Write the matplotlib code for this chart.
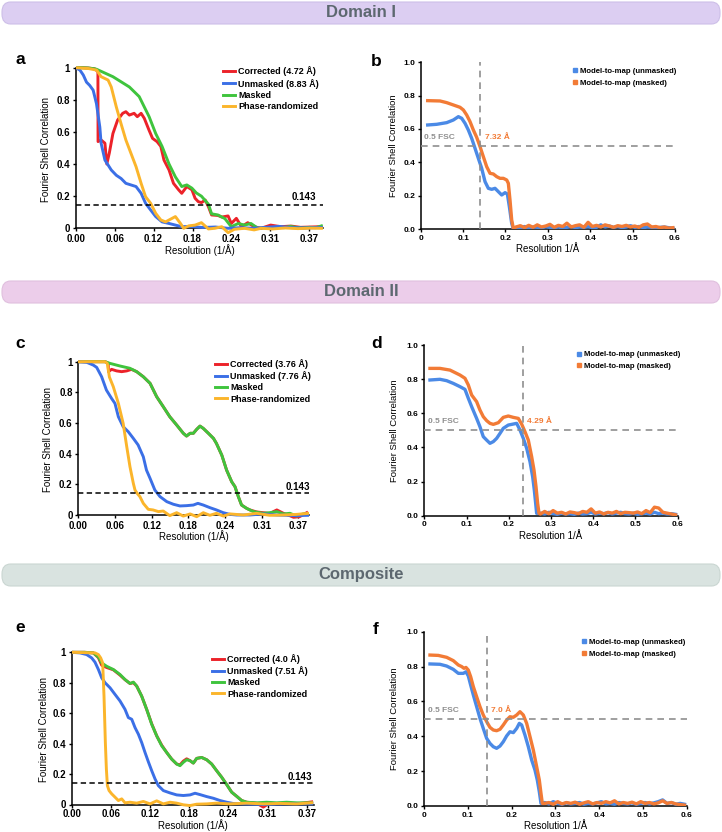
import matplotlib.pyplot as plt
from matplotlib.lines import Line2D
from matplotlib.patches import FancyBboxPatch

plt.rcParams['font.family'] = ['Liberation Sans', 'DejaVu Sans']
plt.rcParams['font.weight'] = 'bold'

W, H = 722, 832

RED = '#ec2229'
BLUE = '#3b6fe6'
GREEN = '#3fc43d'
YELLOW = '#fbb52b'
MBLUE = '#4b8ae6'
ORANGE = '#f27b36'
DASH_GREY = '#8f8f8f'

# ---------------- Domain I (a) : FSC curves ----------------
a_corr_x = [0, 0.01, 0.02, 0.03, 0.035, 0.0352, 0.04, 0.046, 0.049, 0.053, 0.0586, 0.066, 0.074, 0.079,
            0.0845, 0.092, 0.097, 0.103, 0.108, 0.1156, 0.121, 0.128, 0.134, 0.139, 0.147, 0.154, 0.162,
            0.167, 0.175, 0.183, 0.188, 0.193, 0.198, 0.204, 0.209, 0.214, 0.224, 0.23, 0.24, 0.245, 0.253,
            0.261, 0.271, 0.281, 0.292, 0.307, 0.323, 0.339, 0.354, 0.37, 0.385]
a_corr_y = [1, 1, 0.998, 0.993, 0.975, 0.54, 0.55, 0.53, 0.40, 0.47, 0.59, 0.674, 0.716, 0.726,
            0.705, 0.716, 0.695, 0.716, 0.685, 0.61, 0.56, 0.54, 0.51, 0.425, 0.363, 0.28, 0.24,
            0.218, 0.26, 0.24, 0.187, 0.166, 0.16, 0.176, 0.135, 0.083, 0.08, 0.07, 0.077, 0.03, 0.062,
            0.01, 0.035, 0.01, 0.0, 0.02, 0.01, 0.014, 0.006, 0.008, 0.01]
a_unm_x = [0, 0.0067, 0.012, 0.017, 0.022, 0.0275, 0.0327, 0.038, 0.04, 0.046, 0.051, 0.056, 0.064, 0.0715,
           0.079, 0.087, 0.095, 0.103, 0.11, 0.118, 0.126, 0.136, 0.147, 0.157, 0.167, 0.18, 0.2, 0.22,
           0.24, 0.26, 0.28, 0.30, 0.32, 0.34, 0.36, 0.387]
a_unm_y = [1, 0.985, 0.954, 0.91, 0.89, 0.86, 0.776, 0.63, 0.53, 0.425, 0.394, 0.363, 0.33, 0.31,
           0.28, 0.27, 0.26, 0.218, 0.156, 0.114, 0.073, 0.04, 0.03, 0.02, 0.01, 0.012, 0.005, 0.008,
           0.0, 0.004, 0.0, 0.006, 0.012, 0.004, 0.002, 0.005]
a_mask_x = [0, 0.01, 0.02, 0.03, 0.033, 0.0586, 0.0845, 0.10, 0.1156, 0.126, 0.136, 0.147, 0.157, 0.167,
            0.175, 0.183, 0.19, 0.198, 0.209, 0.214, 0.224, 0.235, 0.245, 0.256, 0.266, 0.276, 0.287,
            0.297, 0.307, 0.318, 0.328, 0.338, 0.348, 0.358, 0.368, 0.378, 0.387]
a_mask_y = [1, 1, 0.998, 0.993, 0.99, 0.944, 0.88, 0.82, 0.695, 0.59, 0.51, 0.40, 0.32, 0.26,
            0.27, 0.25, 0.22, 0.20, 0.15, 0.09, 0.083, 0.06, 0.01, 0.03, 0.02, 0.03, 0.0,
            0.003, 0.0, 0.008, 0.004, 0.012, 0.005, 0.002, 0.006, 0.004, 0.015]
a_phase_x = [0, 0.02, 0.033, 0.04, 0.051, 0.056, 0.064, 0.0715, 0.079, 0.087, 0.095, 0.103, 0.11, 0.118,
             0.126, 0.134, 0.1415, 0.149, 0.157, 0.165, 0.17, 0.178, 0.188, 0.198, 0.209, 0.219, 0.23,
             0.24, 0.25, 0.266, 0.281, 0.292, 0.31, 0.33, 0.35, 0.37, 0.387]
a_phase_y = [1, 0.995, 0.985, 0.944, 0.923, 0.88, 0.755, 0.65, 0.55, 0.467, 0.384, 0.28, 0.197, 0.156,
             0.093, 0.052, 0.04, 0.056, 0.073, 0.03, 0.0, 0.015, 0.02, 0.035, -0.004, 0.0, 0.01,
             -0.027, -0.006, 0.0, -0.01, 0.0, -0.004, 0.002, -0.002, 0.001, 0.0]
a_labels = ['Corrected (4.72 Å)', 'Unmasked (8.83 Å)', 'Masked', 'Phase-randomized']

# ---------------- Domain II (c) ----------------
c_corr_x = [0, 0.02, 0.045, 0.05, 0.0505, 0.0557, 0.064, 0.0725, 0.081, 0.089, 0.0976, 0.1087, 0.12, 0.131,
            0.142, 0.153, 0.1645, 0.1756, 0.181, 0.187, 0.1924, 0.198, 0.2035, 0.209, 0.2175, 0.226,
            0.231, 0.24, 0.248, 0.2565, 0.262, 0.2676, 0.273, 0.2816, 0.287, 0.298, 0.309, 0.32, 0.332,
            0.343, 0.354, 0.36, 0.37, 0.382]
c_corr_y = [1, 1, 1, 0.99, 0.935, 0.95, 0.94, 0.935, 0.94, 0.95, 0.935, 0.902, 0.859, 0.772,
            0.707, 0.641, 0.587, 0.533, 0.515, 0.533, 0.533, 0.559, 0.58, 0.565, 0.533, 0.5,
            0.467, 0.39, 0.293, 0.217, 0.185, 0.12, 0.065, 0.043, 0.033, 0.02, 0.015, 0.01, 0.033,
            0.011, -0.005, -0.015, -0.011, 0.015]
c_unm_x = [0, 0.014, 0.025, 0.0307, 0.039, 0.047, 0.0557, 0.0613, 0.067, 0.075, 0.0836, 0.092, 0.1, 0.1087,
           0.114, 0.12, 0.128, 0.1366, 0.148, 0.159, 0.17, 0.181, 0.1924, 0.2, 0.209, 0.22, 0.231,
           0.2425, 0.2537, 0.265, 0.287, 0.309, 0.332, 0.365, 0.385]
c_unm_y = [1, 0.996, 0.978, 0.963, 0.902, 0.815, 0.76, 0.728, 0.641, 0.576, 0.543, 0.5, 0.457, 0.38,
           0.293, 0.239, 0.163, 0.12, 0.087, 0.07, 0.059, 0.061, 0.065, 0.076, 0.065, 0.048, 0.033,
           0.015, 0.004, 0.0, 0.0, 0.007, 0.0, -0.004, -0.002]
c_mask_x = [0, 0.02, 0.0446, 0.053, 0.0697, 0.0864, 0.0976, 0.1087, 0.12, 0.131, 0.142, 0.153, 0.1645,
            0.1756, 0.181, 0.187, 0.1924, 0.198, 0.2035, 0.209, 0.2175, 0.226, 0.231, 0.24, 0.248,
            0.2565, 0.262, 0.2676, 0.273, 0.2816, 0.293, 0.309, 0.32, 0.332, 0.343, 0.354, 0.365,
            0.376, 0.385]
c_mask_y = [1, 1, 1, 0.989, 0.972, 0.957, 0.935, 0.902, 0.859, 0.772, 0.707, 0.641, 0.587,
            0.533, 0.515, 0.533, 0.533, 0.559, 0.58, 0.565, 0.533, 0.5, 0.467, 0.39, 0.293,
            0.217, 0.185, 0.12, 0.065, 0.043, 0.022, 0.011, 0.015, 0.022, 0.007, 0.011, -0.007,
            0.007, 0.004]
c_phase_x = [0, 0.02, 0.0446, 0.0485, 0.052, 0.0585, 0.067, 0.075, 0.081, 0.0864, 0.092, 0.0948, 0.0987,
             0.103, 0.1087, 0.117, 0.125, 0.134, 0.142, 0.153, 0.1645, 0.1756, 0.187, 0.198, 0.209,
             0.22, 0.231, 0.2425, 0.2537, 0.276, 0.298, 0.32, 0.343, 0.365, 0.385]
c_phase_y = [1, 1, 1, 0.989, 0.9, 0.837, 0.728, 0.598, 0.446, 0.315, 0.207, 0.163, 0.14,
             0.12, 0.076, 0.037, 0.033, 0.022, 0.026, -0.004, 0.015, -0.007, 0.007, -0.011, 0.015,
             -0.002, 0.011, -0.007, 0.007, 0.0, 0.011, -0.002, 0.0, 0.004, 0.011]
c_labels = ['Corrected (3.76 Å)', 'Unmasked (7.76 Å)', 'Masked', 'Phase-randomized']

# ---------------- Composite (e) ----------------
e_mask_x = [0, 0.02, 0.0339, 0.0418, 0.047, 0.0548, 0.0652, 0.0757, 0.0835, 0.0913, 0.0966, 0.1018,
            0.1096, 0.1174, 0.1253, 0.1331, 0.1409, 0.1487, 0.1566, 0.1644, 0.1696, 0.1748, 0.18,
            0.1853, 0.1905, 0.1957, 0.2035, 0.2114, 0.2192, 0.227, 0.2349, 0.2427, 0.2505, 0.2583,
            0.2662, 0.274, 0.2897, 0.3053, 0.321, 0.3366, 0.3523, 0.3758]
e_mask_y = [1, 1, 0.996, 0.969, 0.93, 0.908, 0.887, 0.854, 0.821, 0.795, 0.804, 0.778,
            0.712, 0.625, 0.527, 0.451, 0.386, 0.342, 0.298, 0.266, 0.255, 0.277, 0.294,
            0.288, 0.272, 0.303, 0.309, 0.294, 0.266, 0.222, 0.179, 0.131, 0.081, 0.054,
            0.026, 0.015, 0.011, 0.015, 0.011, 0.015, 0.011, 0.011]
e_corr_x = [0, 0.02, 0.0339, 0.0418, 0.047, 0.0548, 0.0652, 0.0757, 0.0835, 0.0913, 0.0966, 0.1018,
            0.1096, 0.1174, 0.1253, 0.1331, 0.1409, 0.1487, 0.1566, 0.1644, 0.1696, 0.1748, 0.18,
            0.1853, 0.1905, 0.1957, 0.2035, 0.2114, 0.2192, 0.227, 0.2349, 0.2427, 0.2505, 0.2583,
            0.2662, 0.274, 0.2897, 0.3001, 0.31, 0.321, 0.3366, 0.3523, 0.3758]
e_corr_y = [1, 1, 0.996, 0.965, 0.915, 0.9, 0.885, 0.85, 0.82, 0.795, 0.8, 0.778,
            0.712, 0.625, 0.53, 0.451, 0.39, 0.342, 0.298, 0.266, 0.26, 0.285, 0.3,
            0.288, 0.272, 0.303, 0.309, 0.294, 0.266, 0.222, 0.179, 0.131, 0.081, 0.054,
            0.026, 0.015, 0.008, -0.017, 0.01, 0.004, 0.011, 0.004, 0.017]
e_unm_x = [0, 0.013, 0.0235, 0.0313, 0.0365, 0.0418, 0.047, 0.0522, 0.06, 0.0679, 0.0757, 0.0835, 0.0887,
           0.094, 0.0992, 0.1044, 0.1096, 0.1148, 0.12, 0.1253, 0.1305, 0.1357, 0.1435, 0.154, 0.1644,
           0.1748, 0.1853, 0.1931, 0.201, 0.2114, 0.2218, 0.2323, 0.2427, 0.2531, 0.2688, 0.3001,
           0.3314, 0.3758]
e_unm_y = [1, 0.996, 0.985, 0.963, 0.935, 0.887, 0.832, 0.8, 0.767, 0.723, 0.68, 0.625, 0.571,
           0.56, 0.505, 0.462, 0.407, 0.342, 0.281, 0.222, 0.168, 0.124, 0.0915, 0.076, 0.063,
           0.059, 0.063, 0.074, 0.065, 0.052, 0.041, 0.026, 0.015, 0.0065, 0.004, 0.0,
           0.004, 0.004]
e_phase_x = [0, 0.0365, 0.0418, 0.0454, 0.0485, 0.0506, 0.0527, 0.0543, 0.0559, 0.0585, 0.0626, 0.0679,
             0.0731, 0.0783, 0.0835, 0.0913, 0.1018, 0.1122, 0.1227, 0.1331, 0.1435, 0.154, 0.1644,
             0.1748, 0.1853, 0.1957, 0.2114, 0.227, 0.2479, 0.274, 0.3001, 0.3262, 0.3523, 0.3758]
e_phase_y = [1, 0.996, 0.985, 0.963, 0.93, 0.712, 0.407, 0.233, 0.124, 0.0915, 0.07, 0.048,
             0.026, 0.037, 0.011, 0.015, 0.009, 0.02, 0.004, 0.024, 0.004, 0.015, 0.009,
             -0.002, -0.007, 0.002, 0.004, 0.009, 0.004, 0.009, 0.004, 0.007, 0.004, 0.011]
e_labels = ['Corrected (4.0 Å)', 'Unmasked (7.51 Å)', 'Masked', 'Phase-randomized']

fsc_xticks = [0.0, 0.0613, 0.1227, 0.184, 0.2453, 0.3067, 0.368]
fsc_xticklabels = ['0.00', '0.06', '0.12', '0.18', '0.24', '0.31', '0.37']
fsc_yticks = [0, 0.2, 0.4, 0.6, 0.8, 1]
fsc_yticklabels = ['0', '0.2', '0.4', '0.6', '0.8', '1']

# ---------------- Model-to-map (b) ----------------
b_unm_x = [0.0165, 0.0377, 0.0613, 0.0771, 0.0889, 0.0967, 0.1046, 0.1124, 0.1203, 0.1282, 0.136, 0.1439,
           0.1518, 0.1596, 0.1675, 0.1754, 0.1832, 0.1911, 0.199, 0.2045, 0.2092, 0.2147, 0.2186]
b_unm_y = [0.624, 0.628, 0.638, 0.654, 0.674, 0.664, 0.634, 0.594, 0.544, 0.484, 0.424, 0.364,
           0.284, 0.244, 0.238, 0.244, 0.224, 0.204, 0.218, 0.21, 0.134, 0.034, 0.0]
b_mask_x = [0.0165, 0.0456, 0.0613, 0.0771, 0.0928, 0.1007, 0.1085, 0.1164, 0.1242, 0.1321, 0.14, 0.1478,
            0.1557, 0.1636, 0.1714, 0.1793, 0.1871, 0.195, 0.2029, 0.2068, 0.2107, 0.2147, 0.2186]
b_mask_y = [0.77, 0.768, 0.758, 0.744, 0.73, 0.714, 0.684, 0.644, 0.594, 0.55, 0.494, 0.434,
            0.374, 0.334, 0.33, 0.314, 0.304, 0.304, 0.294, 0.274, 0.174, 0.054, 0.004]
b_tail_x = [0.225, 0.235, 0.245, 0.255, 0.265, 0.275, 0.285, 0.295, 0.305, 0.315, 0.325, 0.335, 0.345,
            0.355, 0.365, 0.375, 0.385, 0.395, 0.405, 0.415, 0.425, 0.435, 0.445, 0.455, 0.465, 0.475,
            0.485, 0.495, 0.505, 0.515, 0.525, 0.535, 0.545, 0.555, 0.565, 0.575, 0.585, 0.595]
b_tail_unm = [0.01, 0.008, 0.015, 0.005, 0.012, 0.01, 0.006, 0.014, 0.01, 0.008, 0.012, 0.006, 0.01,
              0.015, 0.008, 0.012, 0.01, 0.014, 0.008, 0.01, 0.025, 0.012, 0.018, 0.01, 0.015, 0.008,
              0.012, 0.02, 0.01, 0.015, 0.008, 0.012, 0.01, 0.006, 0.01, 0.012, 0.008, 0.005]
b_tail_mask = [0.012, 0.02, 0.008, 0.022, 0.01, 0.025, 0.012, 0.018, 0.028, 0.01, 0.022, 0.015, 0.035,
               0.012, 0.02, 0.025, 0.01, 0.04, 0.015, 0.022, 0.012, 0.025, 0.018, 0.01, 0.02, 0.015,
               0.022, 0.012, 0.018, 0.01, 0.025, 0.03, 0.012, 0.015, 0.008, 0.012, 0.005, 0.008]
b_res_x = 0.14
b_res_label = '7.32 Å'

# ---------------- Model-to-map (d) ----------------
d_unm_x = [0.0134, 0.0371, 0.0529, 0.0687, 0.0845, 0.0963, 0.1042, 0.1121, 0.1239, 0.1318, 0.1397, 0.1476,
           0.1555, 0.1634, 0.1713, 0.1792, 0.1871, 0.1989, 0.2108, 0.2187, 0.2266, 0.2345, 0.2424,
           0.2503, 0.2566, 0.2605, 0.2637, 0.266]
d_unm_y = [0.795, 0.799, 0.791, 0.775, 0.756, 0.74, 0.688, 0.639, 0.57, 0.521, 0.463, 0.443,
           0.424, 0.434, 0.453, 0.482, 0.512, 0.531, 0.537, 0.541, 0.502, 0.453, 0.395,
           0.316, 0.228, 0.15, 0.072, 0.014]
d_mask_x = [0.0134, 0.0371, 0.0608, 0.0845, 0.0963, 0.1042, 0.1121, 0.1239, 0.1318, 0.1397, 0.1476, 0.1555,
            0.1634, 0.1753, 0.1871, 0.1989, 0.2108, 0.2226, 0.2305, 0.2384, 0.2463, 0.2542, 0.2597,
            0.2645, 0.2684, 0.2716]
d_mask_y = [0.863, 0.863, 0.853, 0.824, 0.805, 0.766, 0.707, 0.668, 0.619, 0.58, 0.557, 0.541,
            0.535, 0.545, 0.576, 0.584, 0.576, 0.57, 0.537, 0.492, 0.443, 0.346, 0.268,
            0.17, 0.072, 0.014]
df_tail_x = [0.275, 0.285, 0.295, 0.305, 0.315, 0.325, 0.335, 0.345, 0.355, 0.365, 0.375, 0.385, 0.395,
             0.405, 0.415, 0.425, 0.435, 0.445, 0.455, 0.465, 0.475, 0.485, 0.495, 0.505, 0.515, 0.525,
             0.535, 0.545, 0.555, 0.565, 0.575, 0.585, 0.595]
d_tail_unm = [0.015, 0.01, 0.02, 0.012, 0.008, 0.015, 0.01, 0.012, 0.008, 0.015, 0.01, 0.012, 0.02,
              0.01, 0.015, 0.012, 0.018, 0.01, 0.015, 0.02, 0.012, 0.01, 0.015, 0.008, 0.012, 0.015,
              0.01, 0.02, 0.012, 0.015, 0.01, 0.012, 0.008]
d_tail_mask = [0.01, 0.025, 0.012, 0.03, 0.015, 0.02, 0.01, 0.022, 0.018, 0.012, 0.025, 0.02, 0.04,
               0.015, 0.022, 0.01, 0.02, 0.015, 0.025, 0.012, 0.02, 0.018, 0.015, 0.022, 0.012, 0.03,
               0.018, 0.05, 0.045, 0.02, 0.015, 0.01, 0.005]
d_res_x = 0.233
d_res_label = '4.29 Å'

# ---------------- Model-to-map (f) ----------------
f_unm_x = [0.013, 0.0358, 0.0511, 0.0663, 0.0778, 0.0892, 0.0953, 0.1006, 0.106, 0.1121, 0.1197, 0.1273,
           0.1349, 0.1426, 0.1502, 0.1578, 0.1654, 0.1731, 0.1807, 0.1883, 0.1959, 0.2036, 0.2112,
           0.2173, 0.2226, 0.2302, 0.2379, 0.2455, 0.2531, 0.2584, 0.263, 0.2668]
f_unm_y = [0.815, 0.813, 0.803, 0.784, 0.761, 0.761, 0.77, 0.746, 0.694, 0.637, 0.57, 0.503,
           0.445, 0.388, 0.359, 0.34, 0.331, 0.344, 0.369, 0.402, 0.426, 0.421, 0.445,
           0.474, 0.465, 0.407, 0.34, 0.264, 0.206, 0.149, 0.082, 0.015]
f_mask_x = [0.013, 0.032, 0.0511, 0.0663, 0.0778, 0.0854, 0.0907, 0.0953, 0.1006, 0.106, 0.1121, 0.1197,
            0.1273, 0.1349, 0.1426, 0.1502, 0.1578, 0.1654, 0.1731, 0.1807, 0.1883, 0.1959, 0.2036,
            0.2112, 0.2188, 0.2264, 0.2341, 0.2417, 0.2493, 0.2569, 0.263, 0.2668, 0.2699]
f_mask_y = [0.866, 0.864, 0.853, 0.834, 0.809, 0.8, 0.79, 0.795, 0.78, 0.742, 0.685, 0.627,
            0.57, 0.522, 0.484, 0.451, 0.436, 0.432, 0.44, 0.465, 0.493, 0.512, 0.509,
            0.522, 0.541, 0.522, 0.474, 0.398, 0.321, 0.226, 0.149, 0.073, 0.015]
f_tail_unm = [0.02, 0.012, 0.025, 0.015, 0.01, 0.018, 0.012, 0.015, 0.02, 0.01, 0.015, 0.012, 0.018,
              0.025, 0.012, 0.015, 0.01, 0.02, 0.015, 0.012, 0.018, 0.01, 0.015, 0.02, 0.012, 0.018,
              0.025, 0.035, 0.015, 0.02, 0.01, 0.015, 0.01]
f_tail_mask = [0.015, 0.02, 0.01, 0.025, 0.012, 0.02, 0.015, 0.022, 0.01, 0.018, 0.025, 0.012, 0.02,
               0.015, 0.025, 0.018, 0.03, 0.012, 0.02, 0.015, 0.022, 0.012, 0.025, 0.015, 0.02, 0.012,
               0.018, 0.03, 0.015, 0.02, 0.012, 0.008, 0.005]
f_res_x = 0.1426
f_res_label = '7.0 Å'

m2m_labels = ['Model-to-map (unmasked)', 'Model-to-map (masked)']
m2m_xticks = [0, 0.1, 0.2, 0.3, 0.4, 0.5, 0.6]
m2m_xticklabels = ['0', '0.1', '0.2', '0.3', '0.4', '0.5', '0.6']
m2m_yticks = [0, 0.2, 0.4, 0.6, 0.8, 1.0]

banners = ['Domain I', 'Domain II', 'Composite']
banner_colors = ['#dccef2', '#eccdea', '#d9e3e0']
banner_edges = ['#cdbfe8', '#e0c0de', '#cad6d2']
banner_top = [0, 279, 562]

fig = plt.figure(figsize=(W / 100, H / 100), dpi=100)


def place(x0, xs, y0, ys, xlim, ylim):
    # x0/y0: pixel of data origin, xs/ys: pixels per data unit
    left = x0 + xlim[0] * xs
    right = x0 + xlim[1] * xs
    bot = y0 - ylim[0] * ys
    top = y0 - ylim[1] * ys
    ax = fig.add_axes([left / W, 1 - bot / H, (right - left) / W, (bot - top) / H])
    ax.set_xlim(*xlim)
    ax.set_ylim(*ylim)
    for s in ['top', 'right']:
        ax.spines[s].set_visible(False)
    for s in ['left', 'bottom']:
        ax.spines[s].set_linewidth(1.1)
    return ax


def fsc_panel(ax, corr, unm, mask, phase, labels, thr_xy, leg_xy, lab_x, xpad=0, tpad=1.5):
    lw = 2.1
    hc, = ax.plot(corr[0], corr[1], color=RED, lw=lw, zorder=2)
    hm, = ax.plot(mask[0], mask[1], color=GREEN, lw=lw, zorder=3)
    hu, = ax.plot(unm[0], unm[1], color=BLUE, lw=lw, zorder=4)
    hp, = ax.plot(phase[0], phase[1], color=YELLOW, lw=lw, zorder=5)
    ax.axhline(0.143, color='black', lw=1.1, ls=(0, (3.5, 2.2)), zorder=6)
    ax.text(thr_xy[0], thr_xy[1], '0.143', fontsize=7, ha='center', va='center')
    ax.spines['bottom'].set_position(('data', 0))
    ax.spines['left'].set_bounds(0, 1)
    ax.set_xticks(fsc_xticks)
    ax.set_xticklabels(fsc_xticklabels)
    ax.set_yticks(fsc_yticks)
    ax.set_yticklabels(fsc_yticklabels)
    ax.tick_params(labelsize=7, length=2.5, width=1, pad=1.5)
    ax.tick_params(axis='x', pad=tpad)
    ax.set_xlabel('Resolution (1/Å)', fontsize=7, labelpad=xpad)
    ax.set_ylabel('Fourier Shell Correlation', fontsize=7)
    ax.yaxis.set_label_coords(lab_x, 0.5)
    ax.legend([hc, hu, hm, hp], labels, loc='upper left', bbox_to_anchor=(leg_xy[0] / W, 1 - leg_xy[1] / H),
              bbox_transform=fig.transFigure, frameon=False, fontsize=6.5, borderpad=0, borderaxespad=0,
              handlelength=1.35, handletextpad=0.35, labelspacing=0.25)


def m2m_panel(ax, unm, mask, res_x, res_label, leg_xy, lab_x):
    lw = 2.4
    ax.plot(unm[0], unm[1], color=MBLUE, lw=lw, zorder=3)
    ax.plot(mask[0], mask[1], color=ORANGE, lw=lw, zorder=4)
    ax.axhline(0.5, color=DASH_GREY, lw=1.2, ls=(0, (4, 3)), zorder=5)
    ax.axvline(res_x, color=DASH_GREY, lw=1.2, ls=(0, (4, 3)), zorder=5)
    ax.text(0.008, 0.55, '0.5 FSC', color=DASH_GREY, fontsize=6, ha='left', va='center')
    ax.text(res_x + 0.011, 0.55, res_label, color=ORANGE, fontsize=6, ha='left', va='center')
    ax.set_xticks(m2m_xticks)
    ax.set_xticklabels(m2m_xticklabels)
    ax.set_yticks(m2m_yticks)
    ax.set_yticklabels(['%.1f' % v for v in m2m_yticks])
    ax.tick_params(labelsize=6, length=2, width=1, pad=2)
    ax.set_xlabel('Resolution 1/Å', fontsize=7, labelpad=2)
    ax.set_ylabel('Fourier Shell Correlation', fontsize=6.8)
    ax.yaxis.set_label_coords(lab_x, 0.5)
    handles = [Line2D([], [], color=MBLUE, marker='s', ls='none', ms=2.5),
               Line2D([], [], color=ORANGE, marker='s', ls='none', ms=2.5)]
    ax.legend(handles, m2m_labels, loc='upper left', bbox_to_anchor=(leg_xy[0] / W, 1 - leg_xy[1] / H),
              bbox_transform=fig.transFigure, frameon=False, fontsize=5.6, borderpad=0, borderaxespad=0,
              handlelength=0.7, handletextpad=0.3, labelspacing=0.55)


# banners
for name, fc, ec, top in zip(banners, banner_colors, banner_edges, banner_top):
    box = FancyBboxPatch((2 / W, 1 - (top + 24) / H), (W - 4) / W, 22 / H,
                         boxstyle='round,pad=0.0,rounding_size=0.012', transform=fig.transFigure,
                         facecolor=fc, edgecolor=ec, lw=0.8)
    fig.patches.append(box)
    fig.text(0.5, 1 - (top + 12.5) / H, name, ha='center', va='center', fontsize=12,
             color='#5d6870', family=['Liberation Sans Narrow', 'Liberation Sans'])

# panel a
ax = place(75.7, 635, 228.3, 160.6, (0, 0.39), (-0.04, 1.02))
fsc_panel(ax, (a_corr_x, a_corr_y), (a_unm_x, a_unm_y), (a_mask_x, a_mask_y), (a_phase_x, a_phase_y),
          a_labels, (0.359, 0.197), (223, 66.5), -0.1)
# panel c
ax = place(78.3, 598, 515, 153.3, (0, 0.385), (-0.04, 1.02))
fsc_panel(ax, (c_corr_x, c_corr_y), (c_unm_x, c_unm_y), (c_mask_x, c_mask_y), (c_phase_x, c_phase_y),
          c_labels, (0.368, 0.185), (215, 359), -0.109)
# panel e (label sits right on the lower edge, as in the original)
ax = place(71.7, 638.6, 804.5, 152.2, (0, 0.38), (-0.04, 1.02))
fsc_panel(ax, (e_corr_x, e_corr_y), (e_unm_x, e_unm_y), (e_mask_x, e_mask_y), (e_phase_x, e_phase_y),
          e_labels, (0.357, 0.179), (211.7, 654), -0.094, xpad=-0.2, tpad=0.8)

# panel b
ax = place(420.7, 423.8, 229, 166.7, (0, 0.6), (0, 1.0))
m2m_panel(ax, (b_unm_x + b_tail_x, b_unm_y + b_tail_unm), (b_mask_x + b_tail_x, b_mask_y + b_tail_mask),
          b_res_x, b_res_label, (572, 67.5), -0.091)
# panel d
ax = place(424.3, 422.3, 515.7, 170.7, (0, 0.6), (0, 1.0))
m2m_panel(ax, (d_unm_x + df_tail_x, d_unm_y + d_tail_unm), (d_mask_x + df_tail_x, d_mask_y + d_tail_mask),
          d_res_x, d_res_label, (576, 351), -0.1)
# panel f
ax = place(424.3, 437.3, 806, 174.3, (0, 0.6), (0, 1.0))
m2m_panel(ax, (f_unm_x + df_tail_x, f_unm_y + f_tail_unm), (f_mask_x + df_tail_x, f_mask_y + f_tail_mask),
          f_res_x, f_res_label, (581, 638.5), -0.096)

# panel letters
for letter, x, y in [('a', 20, 59), ('b', 376, 61), ('c', 20, 343), ('d', 377, 343), ('e', 20, 627),
                     ('f', 376, 629)]:
    fig.text(x / W, 1 - y / H, letter, fontsize=12.5, ha='center', va='center')

fig.savefig('out.png', dpi=100)
